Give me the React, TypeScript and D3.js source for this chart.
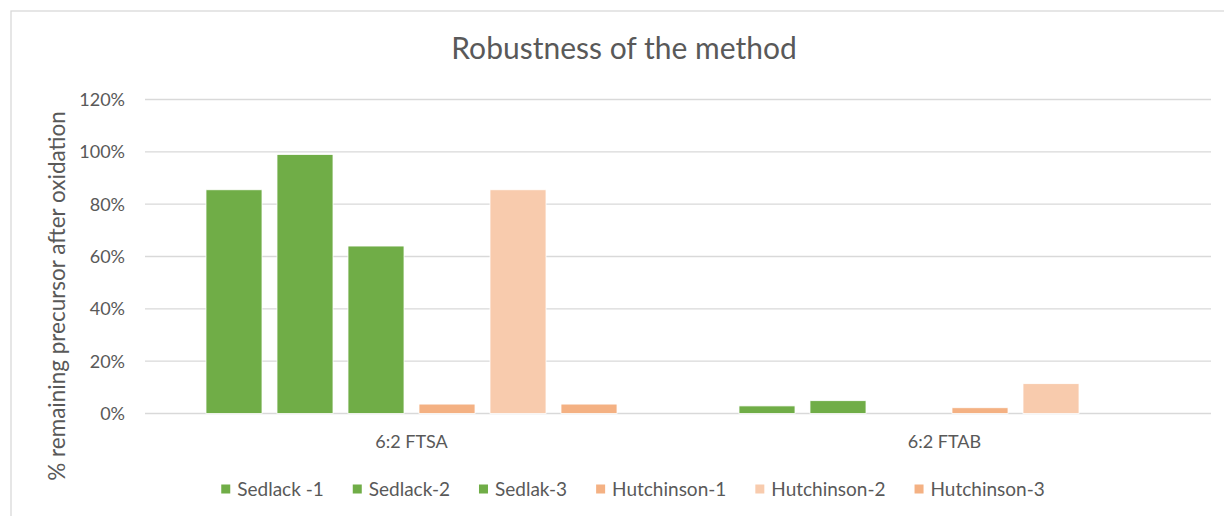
import React from "react";
import * as d3 from "d3";

const categories = ["6:2 FTSA", "6:2 FTAB"];
const seriesNames = ["Sedlack -1", "Sedlack-2", "Sedlak-3", "Hutchinson-1", "Hutchinson-2", "Hutchinson-3"];
const sedlack1 = [0.855, 0.029];
const sedlack2 = [0.99, 0.049];
const sedlak3 = [0.64, 0];
const hutchinson1 = [0.036, 0.022];
const hutchinson2 = [0.855, 0.114];
const hutchinson3 = [0.036, 0];
const seriesValues = [sedlack1, sedlack2, sedlak3, hutchinson1, hutchinson2, hutchinson3];
const seriesColors = ["#70AD47", "#70AD47", "#70AD47", "#F4B183", "#F8CBAD", "#F4B183"];
const yTicks = [0, 0.2, 0.4, 0.6, 0.8, 1.0, 1.2];

const W = 1224;
const H = 516;
const FONT = "Lato, 'Open Sans', sans-serif";
const TEXT = "#595959";
const GRID = "#d9d9d9";

function measure(text: string, size: number) {
  if (typeof document === "undefined") return text.length * size * 0.5;
  const c = document.createElement("canvas");
  const ctx = c.getContext("2d");
  if (!ctx) return text.length * size * 0.5;
  ctx.font = `${size}px Lato`;
  return ctx.measureText(text).width;
}

export default function App() {
  const plot = { left: 145, right: 1211, top: 99.5, bottom: 413.5 };
  const x0 = d3.scaleBand<string>().domain(categories).range([plot.left, plot.right]).padding(0);
  const x1 = d3
    .scaleBand<string>()
    .domain(seriesNames)
    .range([0, x0.bandwidth()])
    .paddingInner(0.211)
    .paddingOuter(0.859);
  const y = d3.scaleLinear().domain([0, 1.2]).range([plot.bottom, plot.top]);
  const fmt = d3.format(".0%");

  const legendFont = 19;
  const sq = 9;
  const sqGap = 7;
  const itemGap = 29;
  const widths = seriesNames.map((s) => sq + sqGap + measure(s, legendFont));
  const total = d3.sum(widths) + itemGap * (seriesNames.length - 1);
  let lx = 633 - total / 2;
  const legendItems = seriesNames.map((s, i) => {
    const item = { name: s, x: lx, color: seriesColors[i] };
    lx += widths[i] + itemGap;
    return item;
  });
  const legendY = 489;

  return (
    <div style={{ position: "absolute", left: 0, top: 0 }}>
      <svg width={W} height={H} style={{ display: "block", background: "#fff" }} fontFamily={FONT}>
        <rect x={11} y={11} width={1240} height={520} fill="#fff" stroke={GRID} strokeWidth={1.3} />
        <text x={624} y={59} textAnchor="middle" fontSize={30} fill={TEXT}>
          Robustness of the method
        </text>
        {yTicks.map((t) => (
          <g key={t}>
            <line x1={plot.left} x2={plot.right} y1={y(t)} y2={y(t)} stroke={GRID} strokeWidth={1.4} />
            <text x={125} y={y(t)} dy="0.36em" textAnchor="end" fontSize={18} fill={TEXT}>
              {fmt(t)}
            </text>
          </g>
        ))}
        {categories.map((c, ci) => (
          <g key={c} transform={`translate(${x0(c)},0)`}>
            {seriesNames.map((s, si) => {
              const v = seriesValues[si][ci];
              if (!v) return null;
              return (
                <rect
                  key={s}
                  x={x1(s)}
                  y={y(v)}
                  width={x1.bandwidth()}
                  height={y(0) - y(v)}
                  fill={seriesColors[si]}
                  stroke="#fff"
                  strokeWidth={0.8}
                />
              );
            })}
            <text x={x0.bandwidth() / 2} y={448} textAnchor="middle" fontSize={18} fill={TEXT}>
              {c}
            </text>
          </g>
        ))}
        <text
          transform={`translate(57,296) rotate(-90)`}
          textAnchor="middle"
          dy="0.35em"
          fontSize={22.5}
          fill={TEXT}
        >
          % remaining precursor after oxidation
        </text>
        {legendItems.map((it) => (
          <g key={it.name}>
            <rect x={it.x} y={legendY - sq / 2} width={sq} height={sq} fill={it.color} />
            <text x={it.x + sq + sqGap} y={legendY} dy="0.36em" fontSize={legendFont} fill={TEXT}>
              {it.name}
            </text>
          </g>
        ))}
      </svg>
    </div>
  );
}
